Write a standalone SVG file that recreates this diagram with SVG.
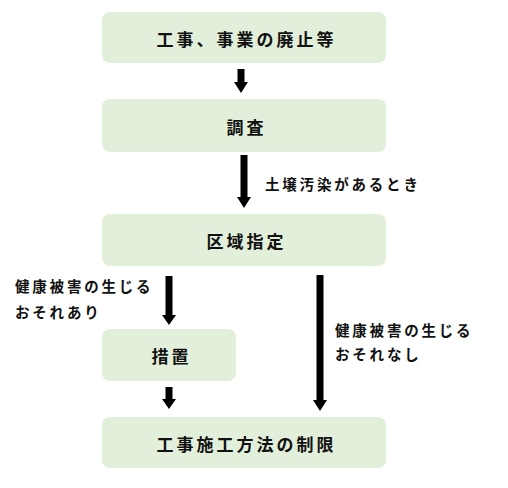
<svg xmlns="http://www.w3.org/2000/svg" width="508" height="488" viewBox="0 0 508 488">
<style>
.box{fill:#e2efda;}
.t{font-family:"Noto Sans CJK JP","Noto Sans",sans-serif;font-size:17px;font-weight:bold;fill:#111;text-anchor:middle;letter-spacing:3px;dominant-baseline:central;}
.l{font-family:"Noto Sans CJK JP","Noto Sans",sans-serif;font-size:14.5px;font-weight:bold;fill:#111;letter-spacing:2.8px;dominant-baseline:central;}
.sh{stroke:#000;stroke-width:7;}
.hd{fill:#000;}
</style>
<rect width="508" height="488" fill="#fff"/>
<g id="n1"><rect class="box" x="102" y="12" width="284" height="51" rx="8"/><text class="t" x="246.5" y="38">工事、事業の廃止等</text></g>
<g id="n2"><rect class="box" x="102" y="99" width="284" height="53" rx="8"/><text class="t" x="246.5" y="126">調査</text></g>
<g id="n3"><rect class="box" x="102" y="214" width="284" height="52" rx="8"/><text class="t" x="246.5" y="240">区域指定</text></g>
<g id="n4"><rect class="box" x="102" y="329" width="134" height="52" rx="8"/><text class="t" x="171.5" y="355">措置</text></g>
<g id="n5"><rect class="box" x="102" y="417" width="284" height="51" rx="8"/><text class="t" x="246.5" y="443">工事施工方法の制限</text></g>
<g id="connectors">
<line class="sh" x1="241" y1="69" x2="241" y2="83"/><polygon class="hd" points="234,82 248,82 241,93"/>
<line class="sh" x1="244" y1="155" x2="244" y2="198"/><polygon class="hd" points="237,197 251,197 244,208"/>
<line class="sh" x1="169" y1="276" x2="169" y2="316"/><polygon class="hd" points="162,315 176,315 169,325"/>
<line class="sh" x1="320" y1="275" x2="320" y2="401"/><polygon class="hd" points="313,400 327,400 320,411"/>
<line class="sh" x1="169" y1="387" x2="169" y2="400"/><polygon class="hd" points="162,399 176,399 169,409"/>
</g>
<text class="l" x="265" y="183">土壌汚染があるとき</text>
<text class="l" x="15" y="285">健康被害の生じる</text>
<text class="l" x="15" y="311">おそれあり</text>
<text class="l" x="335" y="329">健康被害の生じる</text>
<text class="l" x="335" y="353">おそれなし</text>
</svg>
